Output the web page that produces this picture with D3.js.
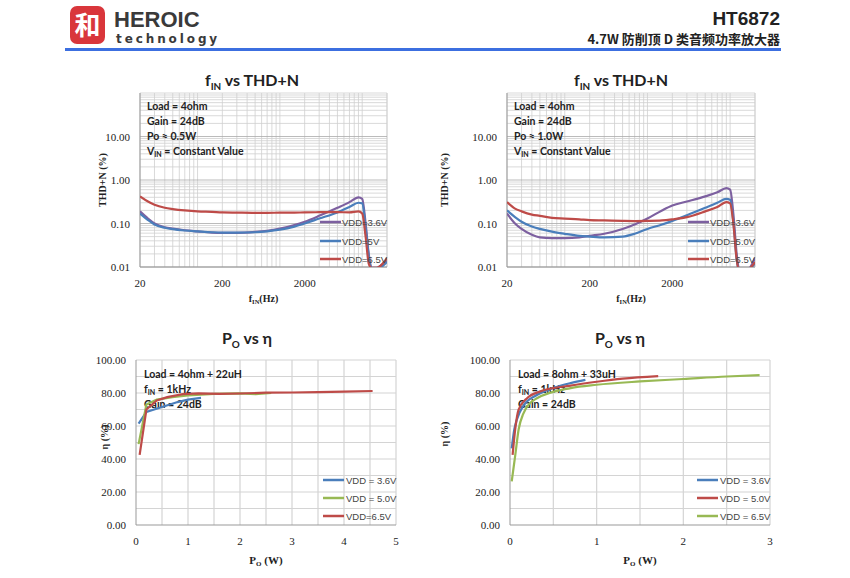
<!DOCTYPE html>
<html>
<head>
<meta charset="utf-8">
<script src="https://cdn.jsdelivr.net/npm/d3@7"></script>
<style>
  body { margin: 0; background: #fff; }
  svg text { fill: #222; }
</style>
</head>
<body>
<div id="page"></div>
<script>
// ---- data ----
var freqs = [20, 25, 30, 40, 50, 70, 100, 150, 200, 300, 500, 700, 1000, 1500, 2000, 3000, 5000, 7000, 9000, 10000, 11000, 12000, 13000, 15000, 17000, 20000];

// THD+N (%) at Po = 0.5W
var thdA_36 = [0.19, 0.13, 0.1, 0.082, 0.076, 0.07, 0.066, 0.062, 0.061, 0.061, 0.064, 0.068, 0.076, 0.092, 0.11, 0.15, 0.23, 0.31, 0.40, 0.37, 0.1, 0.02, 0.0095, 0.0095, 0.011, 0.014];
var thdA_50 = [0.17, 0.12, 0.095, 0.08, 0.074, 0.069, 0.066, 0.063, 0.062, 0.062, 0.063, 0.066, 0.072, 0.085, 0.1, 0.13, 0.18, 0.24, 0.30, 0.29, 0.08, 0.018, 0.009, 0.009, 0.01, 0.013];
var thdA_65 = [0.42, 0.32, 0.27, 0.23, 0.215, 0.2, 0.19, 0.185, 0.18, 0.178, 0.176, 0.176, 0.177, 0.178, 0.18, 0.182, 0.183, 0.18, 0.19, 0.17, 0.05, 0.012, 0.0095, 0.0095, 0.011, 0.016];

// THD+N (%) at Po = 1.0W
var thdB_36 = [0.17, 0.1, 0.075, 0.055, 0.048, 0.046, 0.046, 0.048, 0.052, 0.058, 0.075, 0.095, 0.13, 0.2, 0.26, 0.32, 0.42, 0.52, 0.65, 0.6, 0.15, 0.02, 0.008, 0.007, 0.009, 0.016];
var thdB_50 = [0.2, 0.14, 0.11, 0.085, 0.075, 0.065, 0.058, 0.052, 0.05, 0.048, 0.05, 0.058, 0.075, 0.095, 0.115, 0.155, 0.23, 0.3, 0.37, 0.35, 0.1, 0.015, 0.008, 0.008, 0.009, 0.012];
var thdB_65 = [0.31, 0.22, 0.19, 0.16, 0.15, 0.135, 0.13, 0.125, 0.12, 0.118, 0.115, 0.114, 0.115, 0.118, 0.125, 0.14, 0.19, 0.24, 0.31, 0.29, 0.09, 0.015, 0.008, 0.008, 0.009, 0.013];

// efficiency (%) vs Po (W), 4ohm + 22uH
var po4_36 = [0.05, 0.2, 0.5, 0.8, 1.0, 1.25];
var eff4_36 = [61.5, 68.5, 71.5, 74.5, 76, 77];
var po4_50 = [0.05, 0.2, 0.4, 0.7, 1.0, 1.5, 2.0, 2.3, 2.6];
var eff4_50 = [49, 73, 76, 77.5, 78.5, 79.5, 79.8, 79.3, 80];
var po4_65 = [0.07, 0.2, 0.4, 0.6, 0.9, 1.2, 1.6, 2.0, 2.5, 3.0, 3.5, 4.0, 4.55];
var eff4_65 = [42.5, 70, 75.5, 77.5, 79.3, 79.8, 79.5, 79.7, 80.2, 80.3, 80.5, 80.8, 81.2];

// efficiency (%) vs Po (W), 8ohm + 33uH
var po8_36 = [0.02, 0.05, 0.08, 0.15, 0.3, 0.5, 0.7, 0.87];
var eff8_36 = [46.5, 58, 64, 72, 78.5, 83, 86, 88];
var po8_50 = [0.03, 0.06, 0.1, 0.2, 0.35, 0.7, 1.0, 1.3, 1.71];
var eff8_50 = [42.5, 58, 70, 77, 81, 84.5, 86.8, 88.7, 90.2];
var po8_65 = [0.02, 0.06, 0.1, 0.15, 0.3, 0.7, 1.0, 1.5, 2.0, 2.5, 2.88];
var eff8_65 = [26.5, 42, 58, 67, 76.5, 83, 85, 87, 88.5, 90, 90.8];

var thdTicks = [0.01, 0.1, 1, 10];
var freqTicks = [20, 200, 2000];
var effTicks = [0, 20, 40, 60, 80, 100];

var purple = "#7d60a0", blue = "#4a7ebb", red = "#be4b48", green = "#98b954";
var serif = "'Liberation Serif', 'DejaVu Serif', serif";
var sans = "Lato, 'Open Sans', sans-serif";

var svg = d3.select("#page").append("svg")
    .attr("width", 850)
    .attr("height", 578);

// ---- header ----
var hdr = svg.append("g");
hdr.append("rect").attr("x", 70).attr("y", 6).attr("width", 35).attr("height", 38)
    .attr("rx", 7).attr("fill", "#d9363b");
hdr.append("text").attr("x", 87.5).attr("y", 35).attr("text-anchor", "middle")
    .attr("font-family", "'Noto Sans CJK SC'").attr("font-weight", "bold")
    .attr("font-size", 26).style("fill", "#fff").text("和");
hdr.append("text").attr("x", 114).attr("y", 27)
    .attr("font-family", "'Liberation Sans', Arial, sans-serif").attr("font-weight", "bold")
    .attr("font-size", 22).style("fill", "#3a3a3a").text("HEROIC");
hdr.append("text").attr("x", 116).attr("y", 43)
    .attr("font-family", "'DejaVu Sans', sans-serif").attr("font-weight", "bold")
    .attr("font-size", 12).attr("letter-spacing", 2.9).style("fill", "#3a3a3a").text("technology");
hdr.append("rect").attr("x", 65).attr("y", 48).attr("width", 716).attr("height", 3).attr("fill", "#3c6fe0");
hdr.append("text").attr("x", 780).attr("y", 25).attr("text-anchor", "end")
    .attr("font-family", "'Liberation Sans', Arial, sans-serif").attr("font-weight", "bold")
    .attr("font-size", 19).text("HT6872");
hdr.append("text").attr("x", 780).attr("y", 44).attr("text-anchor", "end")
    .attr("font-family", "'Noto Sans CJK SC', sans-serif").attr("font-weight", "bold")
    .attr("font-size", 13).text("4.7W 防削顶 D 类音频功率放大器");

function subTitle(g, x, y, size, parts) {
    var t = g.append("text").attr("x", x).attr("y", y).attr("text-anchor", "middle")
        .attr("font-family", sans).attr("font-weight", "bold").attr("font-size", size);
    parts.forEach(function(p) {
        var ts = t.append("tspan").text(p.t);
        if (p.sub) ts.attr("font-size", size * 0.62).attr("dy", size * 0.25);
        if (p.back) ts.attr("dy", -size * 0.25);
    });
    return t;
}

// ---- THD+N vs frequency ----
function drawThd(c) {
    var g = svg.append("g");
    var x = d3.scaleLog().domain([20, 20000]).range([c.left, c.right]);
    var y = d3.scaleLog().domain([0.01, 100]).range([c.bottom, c.top]);

    var xMinor = [];
    [10, 100, 1000, 10000].forEach(function(d) {
        for (var k = 1; k < 10; k++) { var v = d * k; if (v >= 20 && v <= 20000) xMinor.push(v); }
    });
    xMinor.push(20000);
    var yMinor = [];
    [0.01, 0.1, 1, 10].forEach(function(d) {
        for (var k = 1; k < 10; k++) yMinor.push(d * k);
    });
    yMinor.push(100);

    g.selectAll(".vg").data(xMinor).enter().append("line")
        .attr("x1", d => x(d)).attr("x2", d => x(d)).attr("y1", c.top).attr("y2", c.bottom)
        .attr("stroke", "#cfcfcf").attr("stroke-width", 0.8);
    g.selectAll(".hg").data(yMinor).enter().append("line")
        .attr("x1", c.left).attr("x2", c.right).attr("y1", d => y(d)).attr("y2", d => y(d))
        .attr("stroke", d => thdTicks.indexOf(d) >= 0 ? "#aaa" : "#cfcfcf").attr("stroke-width", 0.8);
    g.append("line").attr("x1", c.left).attr("x2", c.left).attr("y1", c.top).attr("y2", c.bottom)
        .attr("stroke", "#999");
    g.append("line").attr("x1", c.left).attr("x2", c.right).attr("y1", c.bottom).attr("y2", c.bottom)
        .attr("stroke", "#999");

    g.selectAll(".yl").data(thdTicks).enter().append("text")
        .attr("x", c.left - 10).attr("y", d => y(d) + 4).attr("text-anchor", "end")
        .attr("font-family", serif).attr("font-size", 11).text(d => d.toFixed(2));
    g.selectAll(".xl").data(freqTicks).enter().append("text")
        .attr("x", d => x(d)).attr("y", c.bottom + 20).attr("text-anchor", "middle")
        .attr("font-family", serif).attr("font-size", 11).text(d => d);

    var xt = g.append("text").attr("x", (c.left + c.right) / 2).attr("y", c.bottom + 35)
        .attr("text-anchor", "middle").attr("font-family", serif).attr("font-weight", "bold").attr("font-size", 10);
    xt.append("tspan").text("f");
    xt.append("tspan").attr("font-size", 6.5).attr("dy", 2).text("IN");
    xt.append("tspan").attr("dy", -2).text("(Hz)");

    g.append("text").attr("transform", "translate(" + c.ytx + "," + 180 + ") rotate(-90)")
        .attr("text-anchor", "middle").attr("font-family", serif).attr("font-weight", "bold")
        .attr("font-size", 10).text("THD+N (%)");

    subTitle(g, c.titleX, 86, 16, [{t: "f"}, {t: "IN", sub: true}, {t: " vs THD+N", back: true}]);

    var notes = g.append("g").attr("font-family", sans).attr("font-weight", "bold").attr("font-size", 10.5);
    notes.append("text").attr("x", c.left + 7).attr("y", 110).text("Load = 4ohm");
    notes.append("text").attr("x", c.left + 7).attr("y", 125).text("Gain = 24dB");
    notes.append("text").attr("x", c.left + 7).attr("y", 140).text(c.po);
    var vin = notes.append("text").attr("x", c.left + 7).attr("y", 155);
    vin.append("tspan").text("V");
    vin.append("tspan").attr("font-size", 7).attr("dy", 2).text("IN");
    vin.append("tspan").attr("dy", -2).text(" = Constant Value");

    var clipId = "clip" + c.left;
    g.append("clipPath").attr("id", clipId).append("rect")
        .attr("x", c.left).attr("y", c.top).attr("width", c.right - c.left).attr("height", c.bottom - c.top);

    var line = d3.line()
        .x(function(d) { return x(d[0]); })
        .y(function(d) { return y(d[1]); })
        .curve(d3.curveMonotoneX);

    c.series.forEach(function(s) {
        g.append("path").datum(freqs.map(function(f, i) { return [f, s.v[i]]; }))
            .attr("d", line).attr("fill", "none").attr("stroke", s.color).attr("stroke-width", 2.2)
            .attr("clip-path", "url(#" + clipId + ")");
    });

    c.series.forEach(function(s, i) {
        var ly = c.legY[i];
        g.append("line").attr("x1", c.legX).attr("x2", c.legX + 21).attr("y1", ly).attr("y2", ly)
            .attr("stroke", s.color).attr("stroke-width", 2.5);
        g.append("text").attr("x", c.legX + 22).attr("y", ly + 3.5)
            .attr("font-family", "'Liberation Sans', Arial, sans-serif").attr("font-size", 9.5)
            .style("fill", "#444").text(s.name);
    });
}

drawThd({left: 140, right: 387, top: 93, bottom: 267, ytx: 106, titleX: 252, po: "Po ≈ 0.5W",
    legX: 320, legY: [222, 241, 259],
    series: [{v: thdA_36, color: purple, name: "VDD=3.6V"},
             {v: thdA_50, color: blue, name: "VDD=5V"},
             {v: thdA_65, color: red, name: "VDD=6.5V"}]});
drawThd({left: 507, right: 755, top: 93, bottom: 267, ytx: 448, titleX: 621, po: "Po ≈ 1.0W",
    legX: 688, legY: [222, 241, 259],
    series: [{v: thdB_36, color: purple, name: "VDD=3.6V"},
             {v: thdB_50, color: blue, name: "VDD=5.0V"},
             {v: thdB_65, color: red, name: "VDD=6.5V"}]});

// ---- efficiency vs output power ----
function drawEff(c) {
    var g = svg.append("g");
    var x = d3.scaleLinear().domain([0, c.xmax]).range([c.left, c.right]);
    var y = d3.scaleLinear().domain([0, 100]).range([c.bottom, c.top]);

    g.selectAll(".hg").data(d3.range(10, 101, 10)).enter().append("line")
        .attr("x1", c.left).attr("x2", c.right).attr("y1", d => y(d)).attr("y2", d => y(d))
        .attr("stroke", "#d4d4d4").attr("stroke-width", 1.2);
    g.selectAll(".vg").data(d3.range(0.5, c.xmax + 0.01, 0.5)).enter().append("line")
        .attr("x1", d => x(d)).attr("x2", d => x(d)).attr("y1", c.top).attr("y2", c.bottom)
        .attr("stroke", "#d4d4d4").attr("stroke-width", 1.2);
    g.append("line").attr("x1", c.left).attr("x2", c.left).attr("y1", c.top).attr("y2", c.bottom)
        .attr("stroke", "#999");
    g.append("line").attr("x1", c.left).attr("x2", c.right).attr("y1", c.bottom).attr("y2", c.bottom)
        .attr("stroke", "#999");

    g.selectAll(".yl").data(effTicks).enter().append("text")
        .attr("x", c.left - 10).attr("y", d => y(d) + 4).attr("text-anchor", "end")
        .attr("font-family", serif).attr("font-size", 11).text(d => d.toFixed(2));
    g.selectAll(".xl").data(d3.range(0, c.xmax + 1)).enter().append("text")
        .attr("x", d => x(d)).attr("y", c.bottom + 20).attr("text-anchor", "middle")
        .attr("font-family", serif).attr("font-size", 11).text(d => d);

    var xt = g.append("text").attr("x", (c.left + c.right) / 2).attr("y", c.bottom + 39)
        .attr("text-anchor", "middle").attr("font-family", serif).attr("font-weight", "bold").attr("font-size", 11);
    xt.append("tspan").text("P");
    xt.append("tspan").attr("font-size", 7).attr("dy", 2).text("O");
    xt.append("tspan").attr("dy", -2).text(" (W)");

    g.append("text").attr("transform", "translate(" + c.ytx + "," + c.yty + ") rotate(-90)")
        .attr("text-anchor", "middle").attr("font-family", serif).attr("font-weight", "bold")
        .attr("font-size", 10).text("η (%)");

    subTitle(g, c.titleX, 344, 16, [{t: "P"}, {t: "O", sub: true}, {t: " vs η", back: true}]);

    var notes = g.append("g").attr("font-family", sans).attr("font-weight", "bold").attr("font-size", 10.5);
    notes.append("text").attr("x", c.left + 8).attr("y", 378).text(c.load);
    var fin = notes.append("text").attr("x", c.left + 8).attr("y", 393);
    fin.append("tspan").text("f");
    fin.append("tspan").attr("font-size", 7).attr("dy", 2).text("IN");
    fin.append("tspan").attr("dy", -2).text(" = 1kHz");
    notes.append("text").attr("x", c.left + 8).attr("y", 408).text("Gain = 24dB");

    var line = d3.line()
        .x(function(d) { return x(d[0]); })
        .y(function(d) { return y(d[1]); })
        .curve(c.curve);

    c.series.forEach(function(s) {
        g.append("path").datum(s.p.map(function(p, i) { return [p, s.e[i]]; }))
            .attr("d", line).attr("fill", "none").attr("stroke", s.color).attr("stroke-width", 2.2);
    });

    c.series.forEach(function(s, i) {
        var ly = [480, 498, 516][i];
        g.append("line").attr("x1", c.legX).attr("x2", c.legX + 21).attr("y1", ly).attr("y2", ly)
            .attr("stroke", s.color).attr("stroke-width", 2.5);
        g.append("text").attr("x", c.legX + 23).attr("y", ly + 3.5)
            .attr("font-family", "'Liberation Sans', Arial, sans-serif").attr("font-size", 9.5)
            .style("fill", "#444").text(s.name);
    });
}

drawEff({left: 136, right: 396, top: 360, bottom: 525, xmax: 5, ytx: 108, yty: 437, titleX: 247,
    load: "Load = 4ohm + 22uH", legX: 323, curve: d3.curveLinear,
    series: [{p: po4_36, e: eff4_36, color: blue, name: "VDD = 3.6V"},
             {p: po4_50, e: eff4_50, color: green, name: "VDD = 5.0V"},
             {p: po4_65, e: eff4_65, color: red, name: "VDD=6.5V"}]});
drawEff({left: 510, right: 770, top: 360, bottom: 525, xmax: 3, ytx: 448, yty: 434, titleX: 620,
    load: "Load = 8ohm + 33uH", legX: 697, curve: d3.curveMonotoneX,
    series: [{p: po8_36, e: eff8_36, color: blue, name: "VDD = 3.6V"},
             {p: po8_50, e: eff8_50, color: red, name: "VDD = 5.0V"},
             {p: po8_65, e: eff8_65, color: green, name: "VDD = 6.5V"}]});
</script>
</body>
</html>
